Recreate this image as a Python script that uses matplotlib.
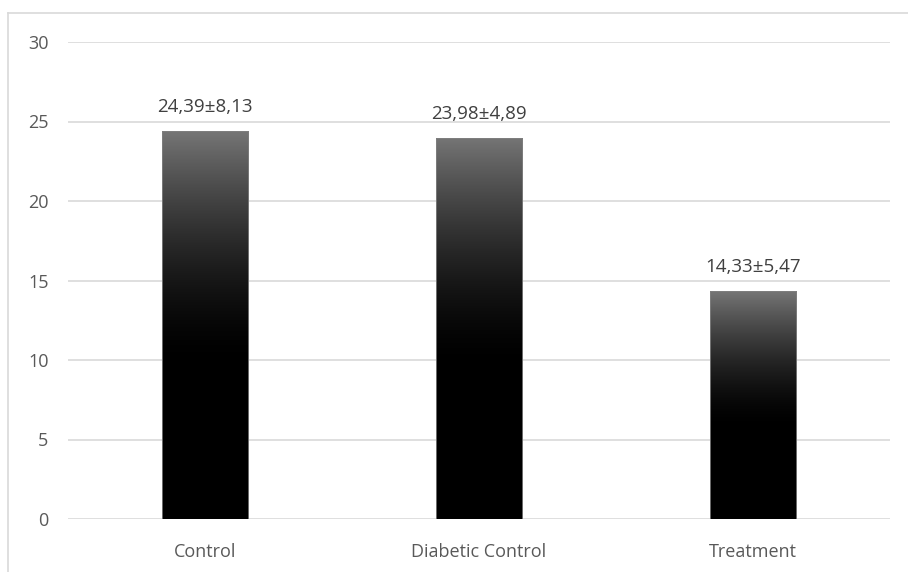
import numpy as np
import matplotlib.pyplot as plt
from matplotlib.lines import Line2D

groups = ["Control", "Diabetic Control", "Treatment"]
means = [24.39, 23.98, 14.33]
sds = [8.13, 4.89, 5.47]
yticks = [0, 5, 10, 15, 20, 25, 30]


def fmt(v):
    return f"{v:.2f}".replace(".", ",")


plt.rcParams['font.family'] = ['Open Sans', 'DejaVu Sans']

W, H = 908, 572
fig = plt.figure(figsize=(W / 100, H / 100), dpi=100)
ax = fig.add_axes([68 / W, 1 - 519 / H, 822 / W, (519 - 42) / H])

# chart frame (only left and top edges fall inside the image)
fig.add_artist(Line2D([8 / W, 8 / W], [0, 1 - 13 / H], color="#d9d9d9", lw=1.2))
fig.add_artist(Line2D([8 / W, 1], [1 - 13 / H, 1 - 13 / H], color="#d9d9d9", lw=1.2))

ax.set_xlim(-0.5, 2.5)
ax.set_ylim(0, 30)
ax.set_yticks(yticks)
ax.yaxis.grid(True, color="#d9d9d9", lw=1.2)
ax.set_axisbelow(True)
for s in ax.spines.values():
    s.set_visible(False)
ax.tick_params(length=0, labelsize=13, labelcolor="#595959")
ax.tick_params(axis="y", pad=14)
ax.tick_params(axis="x", pad=17)

width = 0.317
bars = ax.bar(range(len(groups)), means, width=width, color="none", zorder=2)

# vertical gradient fill: grey at the top easing into black
grad = np.linspace(0, 1, 256)
shade = 0.46 * np.clip(1 - grad / 0.6, 0, 1) ** 1.6
img = np.stack([shade, shade, shade], axis=-1)[:, None, :].repeat(2, axis=1)
for b in bars:
    x0, y1 = b.get_x(), b.get_height()
    im = ax.imshow(img, extent=[x0, x0 + b.get_width(), 0, y1], origin="upper",
                   aspect="auto", zorder=2, interpolation="bilinear")
    im.set_clip_path(b)
    ax.add_patch(plt.Rectangle((x0, 0), b.get_width(), y1, fill=False,
                               ec="#808080", lw=0.6, zorder=3))

for i, (m, s) in enumerate(zip(means, sds)):
    ax.text(i, m + 0.95, f"{fmt(m)}±{fmt(s)}", ha="center", va="bottom",
            fontsize=13.5, color="#404040")

ax.set_xticks(range(len(groups)))
ax.set_xticklabels(groups)
ax.set_xlim(-0.5, 2.5)
ax.set_ylim(0, 30)

fig.savefig("out.png", dpi=100)
